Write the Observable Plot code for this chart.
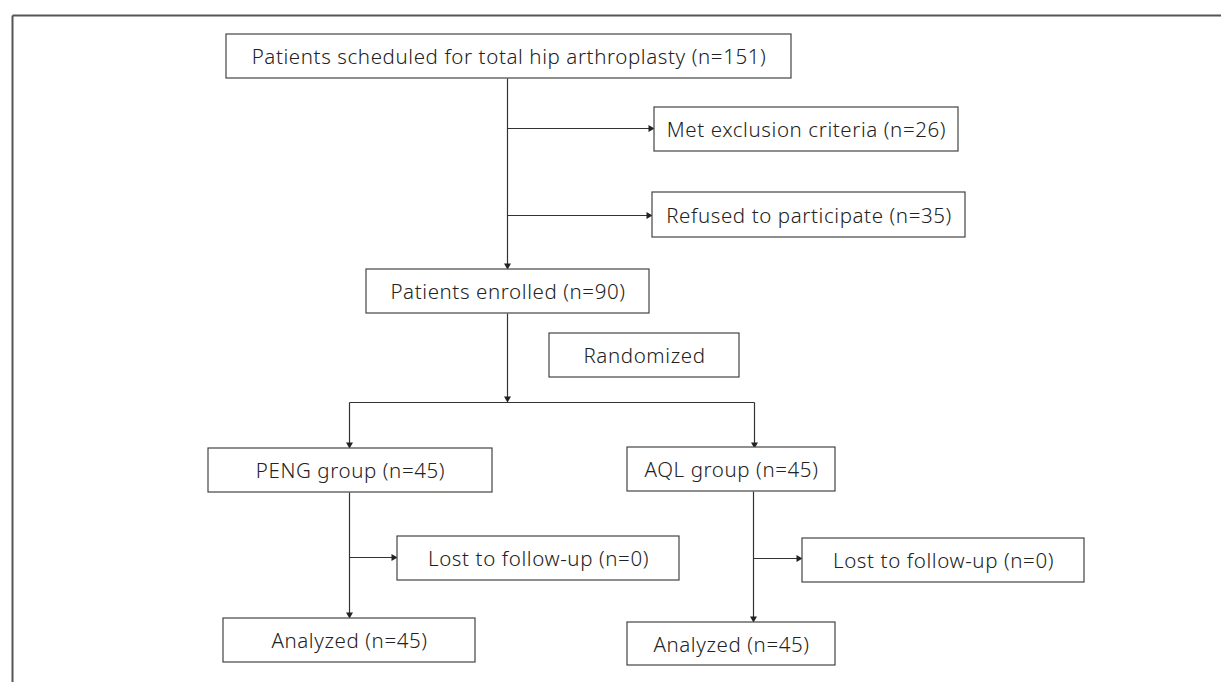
<!DOCTYPE html>
<html>
<head>
<meta charset="utf-8">
<script src="https://cdn.jsdelivr.net/npm/d3@7"></script>
<script src="https://cdn.jsdelivr.net/npm/@observablehq/plot@0.6"></script>
<style>
  html, body { margin: 0; padding: 0; background: #fff; }
  #chart svg { display: block; overflow: hidden; }
  #chart text { letter-spacing: 0.6px; }
</style>
</head>
<body>
<div id="chart"></div>
<script>
// ---- data: flowchart stages and counts ----
const stageIds    = ["scheduled", "excluded", "refused", "enrolled", "randomized", "peng", "aql", "pengLost", "aqlLost", "pengAnalyzed", "aqlAnalyzed"];
const stageLabels = ["Patients scheduled for total hip arthroplasty", "Met exclusion criteria", "Refused to participate", "Patients enrolled", "Randomized", "PENG group", "AQL group", "Lost to follow-up", "Lost to follow-up", "Analyzed", "Analyzed"];
const stageCounts = [151, 26, 35, 90, null, 45, 45, 0, 0, 45, 45];

// ---- layout (pixel space of the figure) ----
const boxLeft   = [226, 654, 652, 366, 549, 208, 627, 397, 802, 223, 627];
const boxRight  = [791, 958, 965, 649, 739, 492, 835, 679, 1084, 475, 835];
const boxTop    = [34, 107, 192, 269, 333, 448, 447, 536, 538, 618, 622];
const boxBottom = [78, 151, 237, 313, 377, 492, 491, 580, 582, 662, 665];

// connectors: [x1, y1, x2, y2, arrowhead direction or null]
const connX1 = [507, 507, 507, 507, 349, 349, 754, 349, 349, 753, 753];
const connY1 = [78, 128, 215, 313, 402, 402, 402, 492, 557, 491, 558];
const connX2 = [507, 653, 651, 507, 754, 349, 754, 349, 396, 753, 801];
const connY2 = [268, 128, 215, 401, 402, 447, 447, 617, 557, 621, 558];
const connHead = ["down", "right", "right", "down", null, "down", "down", "down", "right", "down", "right"];

const boxes = stageIds.map((id, i) => ({
  id,
  label: stageCounts[i] == null ? stageLabels[i] : `${stageLabels[i]} (n=${stageCounts[i]})`,
  x1: boxLeft[i], x2: boxRight[i], y1: boxTop[i], y2: boxBottom[i]
}));
const conns = connX1.map((_, i) => ({x1: connX1[i], y1: connY1[i], x2: connX2[i], y2: connY2[i], head: connHead[i]}));
const heads = conns.filter(d => d.head).map(d => ({
  x: d.head === "right" ? d.x2 - 3 : d.x2,
  y: d.head === "down" ? d.y2 - 3 : d.y2,
  rotate: d.head === "down" ? 180 : 90
}));

const W = 1221, H = 682;
const frame = [
  {x1: 12, y1: 15, x2: W + 5, y2: 15},
  {x1: 12, y1: 15, x2: 12, y2: H + 5}
];

const chart = Plot.plot({
  width: W,
  height: H,
  margin: 0,
  x: {domain: [0, W], range: [0, W], axis: null},
  y: {domain: [0, H], range: [0, H], axis: null},
  style: {background: "#fff"},
  marks: [
    Plot.link(frame, {x1: "x1", y1: "y1", x2: "x2", y2: "y2", stroke: "#555", strokeWidth: 2}),
    Plot.link(conns, {x1: "x1", y1: "y1", x2: "x2", y2: "y2", stroke: "#333", strokeWidth: 1.2}),
    Plot.dot(heads, {x: "x", y: "y", rotate: "rotate", symbol: "triangle", r: 2.6, fill: "#222", stroke: "none"}),
    Plot.rect(boxes, {x1: "x1", x2: "x2", y1: "y1", y2: "y2", fill: "#fff", stroke: "#444", strokeWidth: 1.2}),
    Plot.text(boxes, {
      x: d => (d.x1 + d.x2) / 2,
      y: d => (d.y1 + d.y2) / 2 + 1,
      text: "label",
      fontSize: 20.5,
      fontFamily: "Noto Sans, sans-serif",
      fontWeight: 300,
      fill: "#222",
      textAnchor: "middle",
      lineAnchor: "middle"
    })
  ]
});
document.getElementById("chart").appendChild(chart);
</script>
</body>
</html>
